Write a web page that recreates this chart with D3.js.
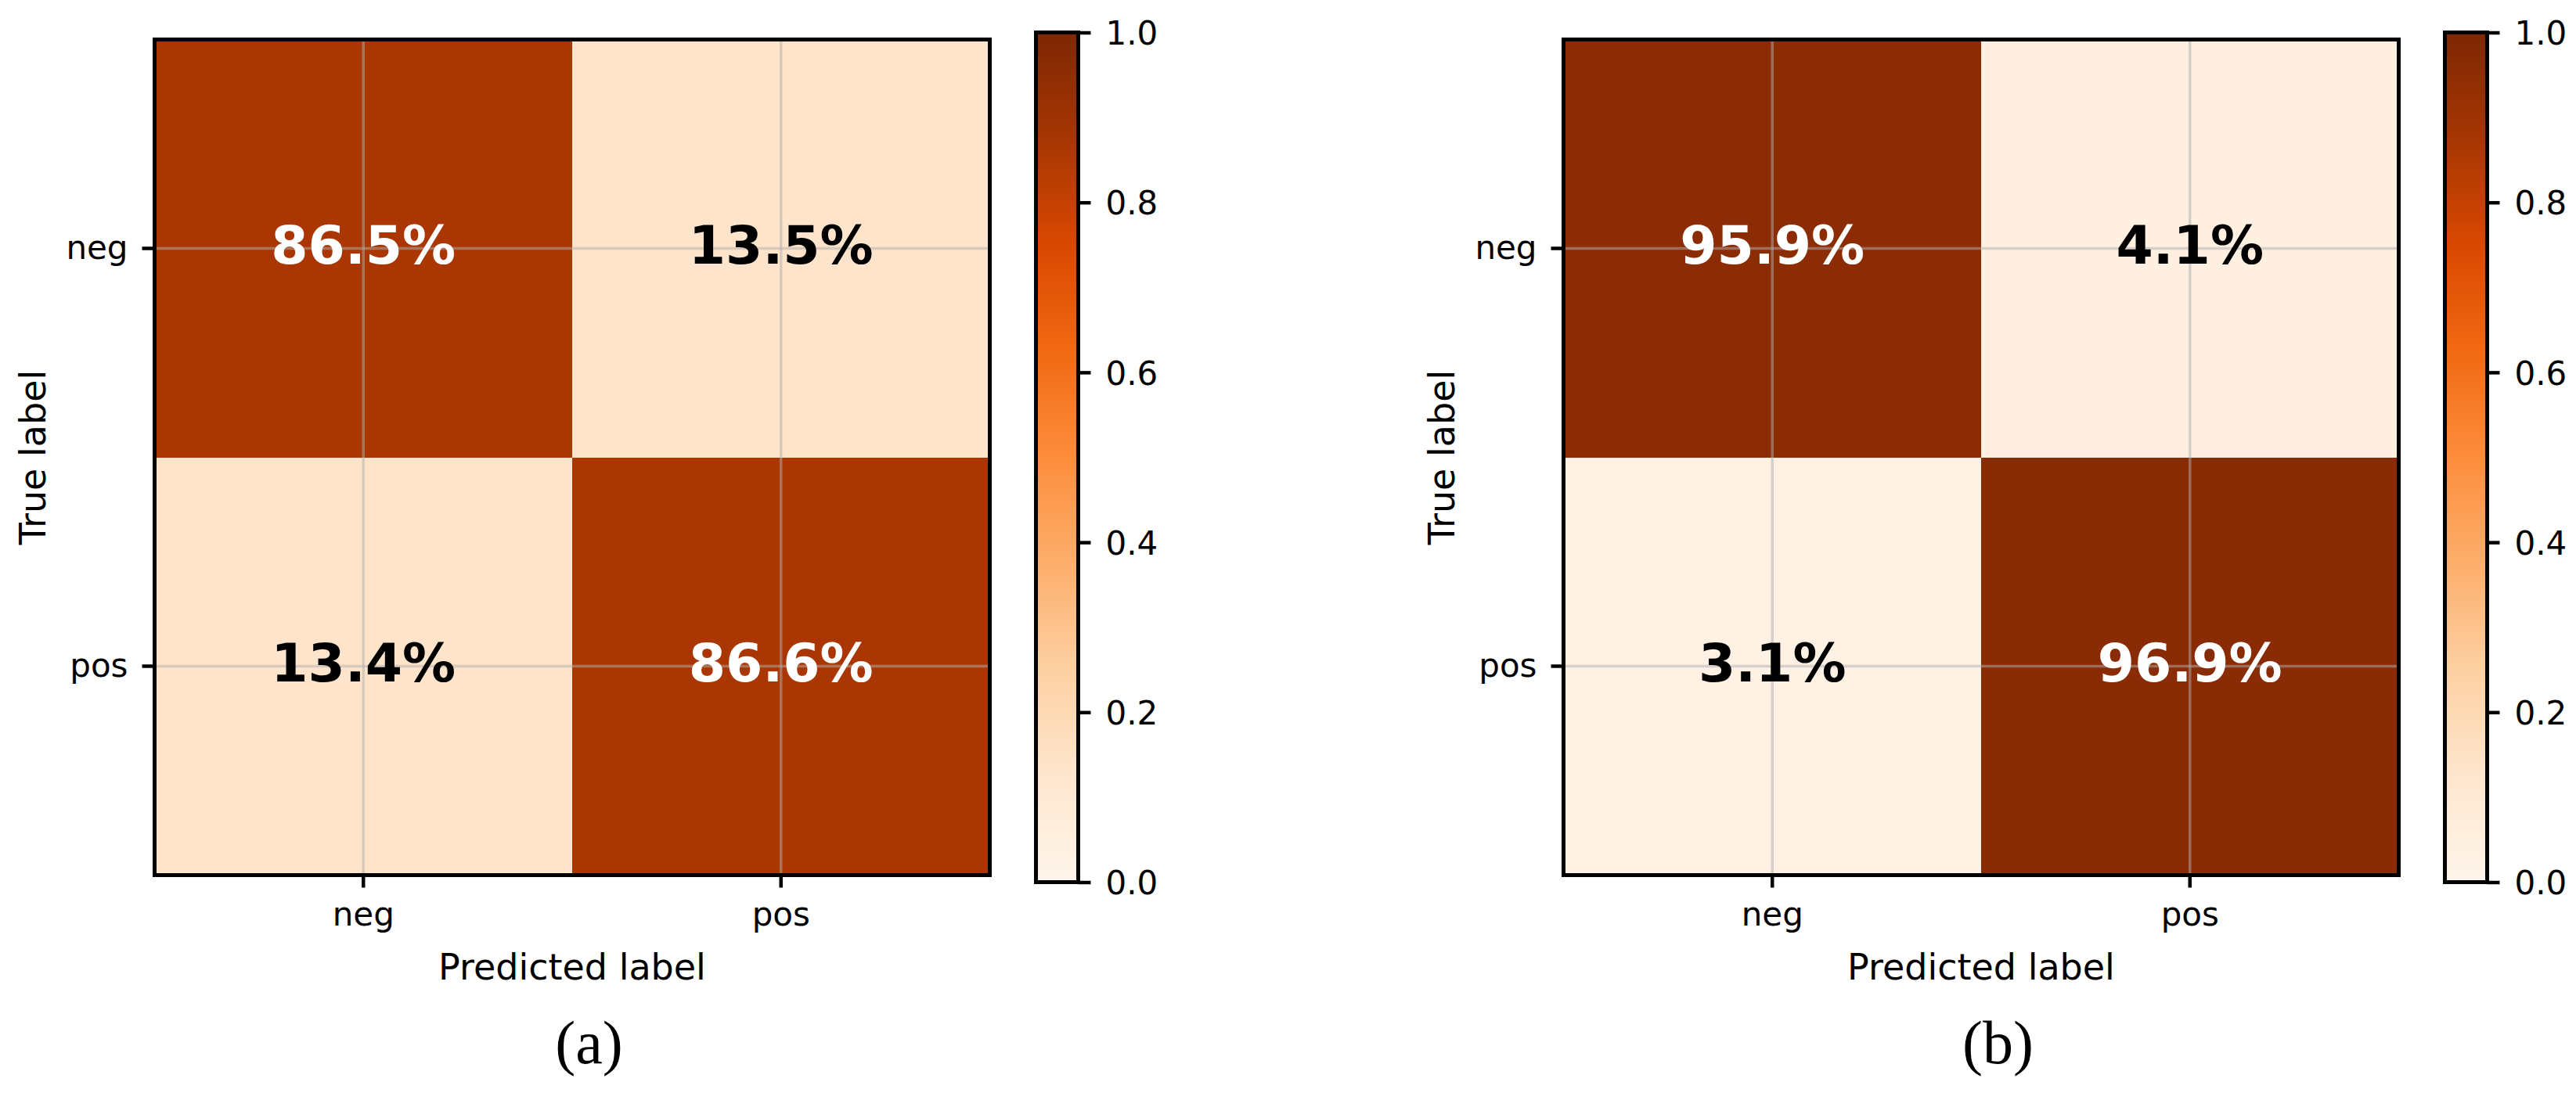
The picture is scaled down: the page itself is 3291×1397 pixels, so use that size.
<!DOCTYPE html>
<html>
<head>
<meta charset="utf-8">
<script src="https://cdn.jsdelivr.net/npm/d3@7"></script>
<style>
body { margin: 0; background: #fff; }
text { font-family: "DejaVu Sans"; }
</style>
</head>
<body>
<svg id="fig" width="3291" height="1397"></svg>
<script>

//************************  data *************************

var labels = ["neg", "pos"];
// rows = true label, columns = predicted label
var matrixA = [[0.865, 0.135], [0.134, 0.866]];
var matrixB = [[0.959, 0.041], [0.031, 0.969]];
var panelTags = ["(a)", "(b)"];
var colorbarTicks = [0, 0.2, 0.4, 0.6, 0.8, 1.0];


//************************  colour map (Oranges) *************************

var oranges = ["#fff5eb", "#fee6ce", "#fdd0a2", "#fdae6b", "#fd8d3c",
               "#f16913", "#d94801", "#a63603", "#7f2704"];
var color = d3.scaleLinear()
    .domain(d3.range(oranges.length).map(function(i){ return i / (oranges.length - 1); }))
    .range(oranges)
    .interpolate(d3.interpolateRgb);

var svg = d3.select("#fig");

var grad = svg.append("defs").append("linearGradient")
    .attr("id", "cbgrad")
    .attr("x1", 0).attr("y1", 1).attr("x2", 0).attr("y2", 0);
grad.selectAll("stop")
    .data(color.domain())
    .enter().append("stop")
    .attr("offset", function(d){ return d; })
    .attr("stop-color", function(d){ return color(d); });


//************************  panel *************************

ConfPanel = function(_matrix, _tag, _left){
    this.matrix = _matrix;
    this.tag = _tag;
    this.left = _left;
    this.initVis();
}

ConfPanel.prototype.initVis = function(){
    var vis = this;

    vis.top = 50.5;
    vis.width = 1067;
    vis.height = 1068;

    vis.g = svg.append("g")
        .attr("transform", "translate(" + vis.left + "," + vis.top + ")");

    vis.x = d3.scaleBand().domain(labels).range([0, vis.width]);
    vis.y = d3.scaleBand().domain(labels).range([0, vis.height]);

    vis.cells = [];
    vis.matrix.forEach(function(row, i){
        row.forEach(function(v, j){
            vis.cells.push({truth: labels[i], pred: labels[j], value: v});
        });
    });

    // cells
    vis.g.selectAll(".cell")
        .data(vis.cells)
        .enter().append("rect")
        .attr("class", "cell")
        .attr("x", function(d){ return vis.x(d.pred); })
        .attr("y", function(d){ return vis.y(d.truth); })
        .attr("width", vis.x.bandwidth())
        .attr("height", vis.y.bandwidth())
        .attr("fill", function(d){ return color(d.value); })
        .attr("shape-rendering", "crispEdges");

    // grid
    vis.g.selectAll(".vgrid")
        .data(labels)
        .enter().append("line")
        .attr("class", "vgrid")
        .attr("x1", function(d){ return vis.x(d) + vis.x.bandwidth() / 2; })
        .attr("x2", function(d){ return vis.x(d) + vis.x.bandwidth() / 2; })
        .attr("y1", 0).attr("y2", vis.height)
        .attr("stroke", "#b0b0b0").attr("stroke-opacity", 0.5).attr("stroke-width", 3.5);

    vis.g.selectAll(".hgrid")
        .data(labels)
        .enter().append("line")
        .attr("class", "hgrid")
        .attr("y1", function(d){ return vis.y(d) + vis.y.bandwidth() / 2; })
        .attr("y2", function(d){ return vis.y(d) + vis.y.bandwidth() / 2; })
        .attr("x1", 0).attr("x2", vis.width)
        .attr("stroke", "#b0b0b0").attr("stroke-opacity", 0.5).attr("stroke-width", 3.5);

    // values
    var pct = d3.format(".1%");
    vis.g.selectAll(".val")
        .data(vis.cells)
        .enter().append("text")
        .attr("class", "val")
        .attr("x", function(d){ return vis.x(d.pred) + vis.x.bandwidth() / 2; })
        .attr("y", function(d){ return vis.y(d.truth) + vis.y.bandwidth() / 2 + 19; })
        .attr("text-anchor", "middle")
        .style("font-size", "68px")
        .style("font-weight", "bold")
        .attr("fill", function(d){ return d.value > 0.5 ? "#fff" : "#000"; })
        .text(function(d){ return pct(d.value); });

    // axes
    var xAxis = d3.axisBottom(vis.x).tickSize(16).tickPadding(19);
    var yAxis = d3.axisLeft(vis.y).tickSize(16).tickPadding(18);

    vis.g.append("g")
        .attr("class", "x-axis axis")
        .attr("transform", "translate(0," + vis.height + ")")
        .call(xAxis);

    vis.g.append("g")
        .attr("class", "y-axis axis")
        .call(yAxis);

    vis.g.selectAll(".axis .domain").remove();
    vis.g.selectAll(".axis line").attr("stroke", "#000").attr("stroke-width", 4.5);
    vis.g.selectAll(".axis text")
        .attr("fill", "#000")
        .style("font-size", "42px")
        .style("font-family", "DejaVu Sans");

    // spines
    vis.g.append("rect")
        .attr("width", vis.width).attr("height", vis.height)
        .attr("fill", "none").attr("stroke", "#000").attr("stroke-width", 5);

    // axis labels
    vis.g.append("text")
        .attr("x", vis.width / 2)
        .attr("y", 1201.5)
        .attr("text-anchor", "middle")
        .style("font-size", "46px")
        .text("Predicted label");

    vis.g.append("text")
        .attr("transform", "translate(-140," + (vis.height / 2) + ") rotate(-90)")
        .attr("text-anchor", "middle")
        .style("font-size", "46px")
        .text("True label");

    // caption
    vis.g.append("text")
        .attr("x", 555)
        .attr("y", 1308.5)
        .attr("text-anchor", "middle")
        .style("font-family", "Liberation Serif")
        .style("font-size", "78px")
        .text(vis.tag);

    vis.drawColorbar();
}

ConfPanel.prototype.drawColorbar = function(){
    var vis = this;

    var cbLeft = 1126, cbWidth = 54, cbTop = -9, cbBottom = 1077;
    var cbScale = d3.scaleLinear().domain([0, 1]).range([cbBottom, cbTop]);

    var cb = vis.g.append("g").attr("transform", "translate(" + cbLeft + ",0)");

    cb.append("rect")
        .attr("y", cbTop)
        .attr("width", cbWidth)
        .attr("height", cbBottom - cbTop)
        .attr("fill", "url(#cbgrad)");

    var cbAxis = d3.axisRight(cbScale)
        .tickValues(colorbarTicks)
        .tickFormat(d3.format(".1f"))
        .tickSize(16)
        .tickPadding(19);

    var ax = cb.append("g")
        .attr("class", "cb-axis")
        .attr("transform", "translate(" + cbWidth + ",0)")
        .call(cbAxis);

    ax.select(".domain").remove();
    ax.selectAll("line").attr("stroke", "#000").attr("stroke-width", 4.5);
    ax.selectAll("text")
        .attr("fill", "#000")
        .attr("dy", "0.36em")
        .style("font-size", "42px")
        .style("font-family", "DejaVu Sans");

    cb.append("rect")
        .attr("y", cbTop)
        .attr("width", cbWidth)
        .attr("height", cbBottom - cbTop)
        .attr("fill", "none").attr("stroke", "#000").attr("stroke-width", 5);
}


//************************  draw *************************

new ConfPanel(matrixA, panelTags[0], 197.5);
new ConfPanel(matrixB, panelTags[1], 1997.5);

</script>
</body>
</html>
